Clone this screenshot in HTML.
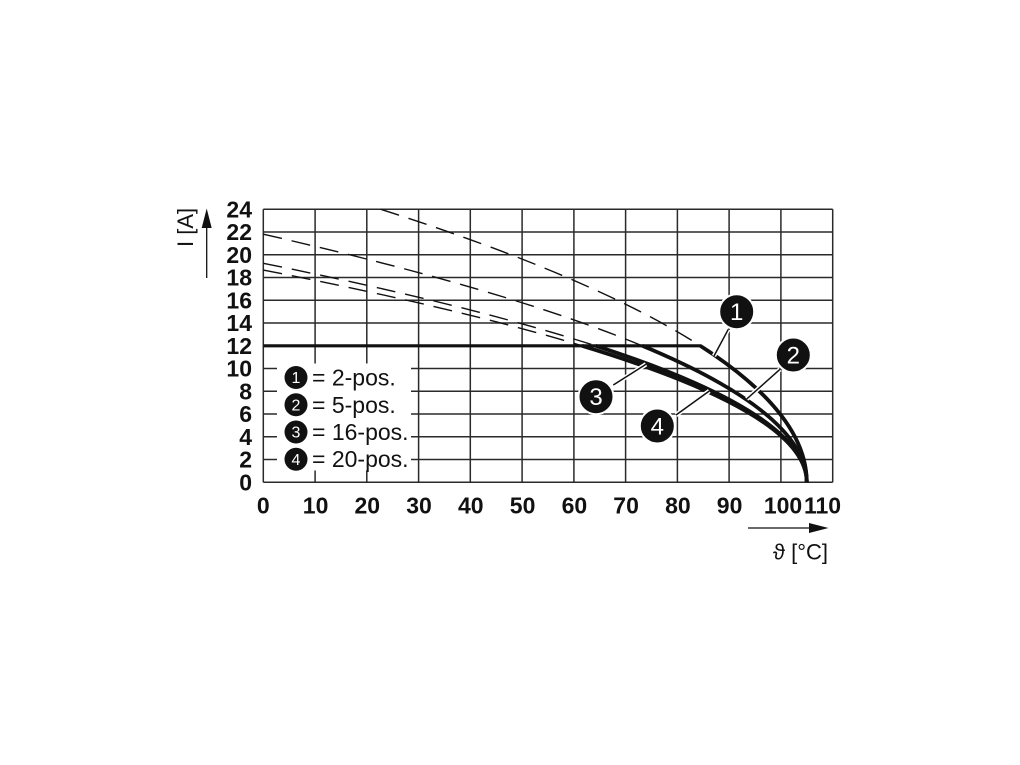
<!DOCTYPE html>
<html><head><meta charset="utf-8"><style>
html,body{margin:0;padding:0;background:#fff;}
svg{display:block;}
text{font-family:"Liberation Sans","DejaVu Sans",sans-serif;}
</style></head><body>
<svg width="1020" height="765" viewBox="0 0 1020 765" xmlns="http://www.w3.org/2000/svg">
<rect width="1020" height="765" fill="#fff"/>
<g stroke="#2a2a2a" stroke-width="1.5" fill="none">
<line x1="263.3" y1="209.3" x2="832.7" y2="209.3"/>
<line x1="263.3" y1="232.05" x2="832.7" y2="232.05"/>
<line x1="263.3" y1="254.8" x2="832.7" y2="254.8"/>
<line x1="263.3" y1="277.55" x2="832.7" y2="277.55"/>
<line x1="263.3" y1="300.3" x2="832.7" y2="300.3"/>
<line x1="263.3" y1="323.05" x2="832.7" y2="323.05"/>
<line x1="263.3" y1="368.55" x2="832.7" y2="368.55"/>
<line x1="263.3" y1="391.3" x2="832.7" y2="391.3"/>
<line x1="263.3" y1="414.05" x2="832.7" y2="414.05"/>
<line x1="263.3" y1="436.8" x2="832.7" y2="436.8"/>
<line x1="263.3" y1="459.55" x2="832.7" y2="459.55"/>
<line x1="263.3" y1="482.3" x2="832.7" y2="482.3"/>
<line x1="263.3" y1="209.3" x2="263.3" y2="482.3"/>
<line x1="315.1" y1="209.3" x2="315.1" y2="482.3"/>
<line x1="366.8" y1="209.3" x2="366.8" y2="482.3"/>
<line x1="418.6" y1="209.3" x2="418.6" y2="482.3"/>
<line x1="470.3" y1="209.3" x2="470.3" y2="482.3"/>
<line x1="522.1" y1="209.3" x2="522.1" y2="482.3"/>
<line x1="573.9" y1="209.3" x2="573.9" y2="482.3"/>
<line x1="625.6" y1="209.3" x2="625.6" y2="482.3"/>
<line x1="677.4" y1="209.3" x2="677.4" y2="482.3"/>
<line x1="729.1" y1="209.3" x2="729.1" y2="482.3"/>
<line x1="780.9" y1="209.3" x2="780.9" y2="482.3"/>
<line x1="832.7" y1="209.3" x2="832.7" y2="482.3"/>
</g>
<!-- dashed curves -->
<g stroke="#111" stroke-width="1.4" fill="none" stroke-dasharray="19 10">
<path d="M380.87,209.3 Q593.83,277.55 700.3,345.8"/>
<path d="M263.28,234.21 Q507.75,290.0 642.25,345.8"/>
<path d="M263.3,263.31 Q468.02,304.56 595.63,345.8"/>
<path d="M263.3,270.04 Q457.28,307.92 582.01,345.8"/>
</g>
<!-- 12 A line -->
<line x1="263.3" y1="345.8" x2="701" y2="345.8" stroke="#111" stroke-width="3.2"/>
<!-- solid curves -->
<g stroke="#111" stroke-width="3.8" fill="none">
<path d="M700.3,345.8 Q806.78,414.05 806.78,482.3"/>
<path d="M642.25,345.8 Q806.78,414.05 806.78,482.3"/>
<path d="M595.63,345.8 Q806.78,414.05 806.78,482.3"/>
<path d="M582.01,345.8 Q806.78,414.05 806.78,482.3"/>
</g>
<!-- legend -->
<rect x="277" y="363.5" width="134" height="107" fill="#fff"/>
<g fill="#111">
<circle cx="296" cy="377.5" r="11.5"/>
<circle cx="296" cy="404.8" r="11.5"/>
<circle cx="296" cy="432" r="11.5"/>
<circle cx="296" cy="459.2" r="11.5"/>
</g>
<g fill="#fff" font-size="16" text-anchor="middle">
<text x="296" y="383.2">1</text>
<text x="296" y="410.5">2</text>
<text x="296" y="437.7">3</text>
<text x="296" y="464.9">4</text>
</g>
<g fill="#111" font-size="23">
<text x="312" y="385.5">= 2-pos.</text>
<text x="312" y="412.8">= 5-pos.</text>
<text x="312" y="440">= 16-pos.</text>
<text x="312" y="467.2">= 20-pos.</text>
</g>
<!-- callouts -->
<g stroke="#fff" stroke-width="4.5" fill="none">
<line x1="728.3" y1="329.3" x2="714" y2="356"/>
<line x1="780" y1="369.3" x2="746.7" y2="399"/>
<line x1="613.3" y1="385" x2="646" y2="364.3"/>
<line x1="676" y1="415" x2="709.3" y2="391"/>
</g>
<g stroke="#111" stroke-width="1.5" fill="none">
<line x1="728.3" y1="329.3" x2="714" y2="356"/>
<line x1="780" y1="369.3" x2="746.7" y2="399"/>
<line x1="613.3" y1="385" x2="646" y2="364.3"/>
<line x1="676" y1="415" x2="709.3" y2="391"/>
</g>
<g fill="#111" stroke="#fff" stroke-width="2">
<circle cx="736.7" cy="311.7" r="17.5"/>
<circle cx="793.3" cy="355" r="17.5"/>
<circle cx="596" cy="396.7" r="17.5"/>
<circle cx="657.3" cy="426" r="17.5"/>
</g>
<g fill="#fff" font-size="24" text-anchor="middle">
<text x="736.7" y="320.2">1</text>
<text x="793.3" y="363.5">2</text>
<text x="596" y="405.2">3</text>
<text x="657.3" y="434.5">4</text>
</g>
<!-- y tick labels -->
<g fill="#111" font-size="23" font-weight="bold" text-anchor="end">
<text x="252" y="217.5">24</text>
<text x="252" y="240.2">22</text>
<text x="252" y="263">20</text>
<text x="252" y="285.7">18</text>
<text x="252" y="308.5">16</text>
<text x="252" y="331.2">14</text>
<text x="252" y="354">12</text>
<text x="252" y="376.7">10</text>
<text x="252" y="399.5">8</text>
<text x="252" y="422.2">6</text>
<text x="252" y="445">4</text>
<text x="252" y="467.7">2</text>
<text x="252" y="490.5">0</text>
</g>
<!-- x tick labels -->
<g fill="#111" font-size="23" font-weight="bold" text-anchor="middle">
<text x="263.3" y="513.3">0</text>
<text x="315.6" y="513.3">10</text>
<text x="367.3" y="513.3">20</text>
<text x="419" y="513.3">30</text>
<text x="470.8" y="513.3">40</text>
<text x="522.6" y="513.3">50</text>
<text x="574.4" y="513.3">60</text>
<text x="626.1" y="513.3">70</text>
<text x="677.9" y="513.3">80</text>
<text x="729.6" y="513.3">90</text>
<text x="783" y="513.3">100</text>
<text x="822.5" y="513.3">110</text>
</g>
<!-- y axis label and arrow -->
<text transform="translate(193,247) rotate(-90)" fill="#111" font-size="22">I [A]</text>
<line x1="206.7" y1="278" x2="206.7" y2="225" stroke="#111" stroke-width="1.3"/>
<polygon points="206.7,208.5 201.7,228 211.7,228" fill="#111"/>
<!-- x axis label and arrow -->
<line x1="748" y1="528" x2="812" y2="528" stroke="#111" stroke-width="1.3"/>
<polygon points="828.5,528 809,523 809,533" fill="#111"/>
<text x="828" y="559.5" fill="#111" font-size="22" text-anchor="end">ϑ [°C]</text>
</svg>
</body></html>
